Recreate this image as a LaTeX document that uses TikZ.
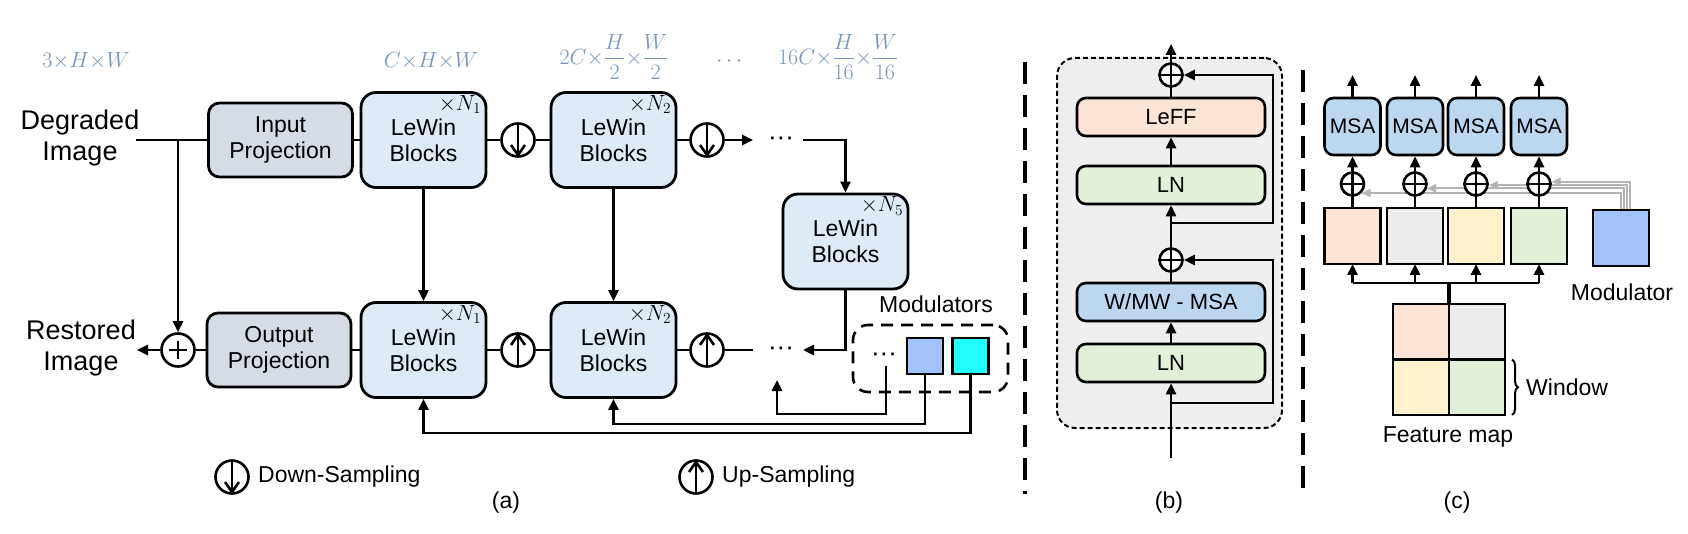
\RequirePackage{fix-cm}
\documentclass[tikz,border=0pt]{standalone}
\usepackage{amsmath}
\usepackage{fontspec}
\setmainfont{Liberation Sans}
\usetikzlibrary{arrows.meta,decorations.pathreplacing,calc}
\pgfdeclarelayer{bg}
\pgfsetlayers{bg,main}
\definecolor{dimc}{RGB}{122,150,186}
\definecolor{projc}{RGB}{214,220,229}
\definecolor{lewinc}{RGB}{222,235,247}
\definecolor{peachc}{RGB}{252,228,214}
\definecolor{greenc}{RGB}{226,240,217}
\definecolor{bluec}{RGB}{189,215,238}
\definecolor{grayc}{RGB}{237,237,237}
\definecolor{yellowc}{RGB}{255,242,204}
\definecolor{modc}{RGB}{164,194,250}
\definecolor{cyanc}{RGB}{34,255,255}
\definecolor{panelc}{RGB}{239,239,239}
\definecolor{garrow}{RGB}{180,180,180}
\newcommand\mydots{\char"00B7\char"00B7\char"00B7}
\begin{document}
\begin{tikzpicture}[x=1pt,y=-1pt,
  box/.style={draw, line width=2.8pt, align=center, inner sep=0pt, font=\fontsize{23}{26}\selectfont},
  proj/.style={box, rounded corners=11pt, fill=projc, minimum width=144pt, minimum height=74pt},
  lewin/.style={box, rounded corners=15pt, fill=lewinc, minimum width=125pt, minimum height=95pt},
  bbox/.style={box, line width=2.6pt, rounded corners=9pt, minimum width=188pt, minimum height=38pt, font=\fontsize{22}{26}\selectfont},
  msa/.style={box, line width=2.6pt, rounded corners=9pt, fill=bluec, minimum width=56pt, minimum height=57pt, font=\fontsize{21}{24}\selectfont},
  sq/.style={draw, line width=2.6pt, minimum width=56pt, minimum height=56pt, inner sep=0pt, outer sep=0pt},
  conn/.style={line width=2.6pt},
  arr/.style={conn, -{Triangle[length=11pt,width=10pt]}},
  samp/.style={circle, draw, line width=2.6pt, minimum size=33pt, inner sep=0pt, fill=white},
  oplus/.style={circle, draw, line width=2.6pt, minimum size=23pt, inner sep=0pt, fill=white},
  lbl/.style={font=\fontsize{23}{27}\selectfont, inner sep=0pt},
  dotl/.style={font=\fontsize{26}{28}\selectfont, inner sep=0pt},
  side/.style={font=\fontsize{27}{31}\selectfont, align=center, inner sep=0pt},
  dim/.style={text=dimc, font=\fontsize{22}{26}\selectfont, inner sep=0pt},
  nlab/.style={font=\fontsize{22}{24}\selectfont, inner sep=0pt, anchor=north east},
  gline/.style={line width=2pt, draw=garrow, -{Triangle[length=9pt,width=8pt]}},
  sepline/.style={line width=3.2pt, dash pattern=on 22pt off 11pt},
]
\useasboundingbox (0,0) rectangle (1688,534);
\begin{pgfonlayer}{bg}
\fill[white] (0,0) rectangle (1688,534);
\end{pgfonlayer}

% ---------------- (a) ----------------
\node[dim] (d0) at (86,61) {$3{\times}H{\times}W$};
\node[dim] (d1) at (431,61) {$C{\times}H{\times}W$};
\node[dim] (d2) at (614,57) {$2C{\times}\dfrac{H}{2}{\times}\dfrac{W}{2}$};
\node[dim] (d3) at (731,62) {$\cdots$};
\node[dim] (d4) at (838,57) {$16C{\times}\dfrac{H}{16}{\times}\dfrac{W}{16}$};

\node[side] (deg) at (80,138) {Degraded\\Image};
\node[side] (res) at (81,348) {Restored\\Image};

\coordinate (in0) at (136,140);
\coordinate (br) at (178,140);
\node[proj] (ip) at (280.5,140) {Input\\Projection};
\node[lewin] (L1t) at (423.5,140) {LeWin\\Blocks};
\node[samp] (s1) at (518,140) {};
\node[lewin] (L2t) at (613.5,140) {LeWin\\Blocks};
\node[samp] (s2) at (707,140) {};
\node[dotl] (dt) at (781,141) {\mydots};
\node[lewin] (L5) at (845.5,241.5) {LeWin\\Blocks};

\node[samp] (pl) at (178,350) {};
\node[proj] (op) at (279,350) {Output\\Projection};
\node[lewin] (L1b) at (423.5,350) {LeWin\\Blocks};
\node[samp] (s3) at (518,350) {};
\node[lewin] (L2b) at (613.5,350) {LeWin\\Blocks};
\node[samp] (s4) at (707,350) {};
\node[dotl] (db) at (781,351) {\mydots};

\node[nlab] (n1t) at ($(L1t.north east)+(-6,4)$) {${\times}N_1$};
\node[nlab] (n2t) at ($(L2t.north east)+(-6,4)$) {${\times}N_2$};
\node[nlab] (n5) at ($(L5.north east)+(-6,4)$) {${\times}N_5$};
\node[nlab] (n1b) at ($(L1b.north east)+(-6,4)$) {${\times}N_1$};
\node[nlab] (n2b) at ($(L2b.north east)+(-6,4)$) {${\times}N_2$};

\draw[conn] (in0) -- (ip.west);
\draw[conn] (ip.east) -- (L1t.west);
\draw[conn] (L1t.east) -- (s1.west);
\draw[conn] (s1.east) -- (L2t.west);
\draw[conn] (L2t.east) -- (s2.west);
\coordinate (e1) at (753,140);
\draw[arr] (s2.east) -- (e1);
\coordinate (e2) at (803,140);
\draw[arr] (e2) -| (L5.north);
\coordinate (e3) at (803,350);
\draw[arr] (L5.south) |- (e3);
\coordinate (e4) at (753,350);
\draw[conn] (e4) -- (s4.east);
\draw[conn] (s4.west) -- (L2b.east);
\draw[conn] (L2b.west) -- (s3.east);
\draw[conn] (s3.west) -- (L1b.east);
\draw[conn] (L1b.west) -- (op.east);
\draw[conn] (op.west) -- (pl.east);
\coordinate (out) at (137,350);
\draw[arr] (pl.west) -- (out);
\draw[arr] (br) -- (pl.north);
\draw[arr] (L1t.south) -- (L1b.north);
\draw[arr] (L2t.south) -- (L2b.north);
\draw[line width=2pt] ($(pl)+(-9,0)$) -- ($(pl)+(9,0)$);
\draw[line width=2pt] ($(pl)+(0,-9)$) -- ($(pl)+(0,9)$);

% modulators
\node[lbl] (modl) at (936,304) {Modulators};
\node[draw, line width=2.6pt, dash pattern=on 12pt off 8pt, rounded corners=15pt, minimum width=155pt, minimum height=67pt, inner sep=0pt] (mbox) at (930.5,358.5) {};
\node[dotl] (mdots) at (884,357) {\mydots};
\node[sq, fill=modc, minimum width=36pt, minimum height=36pt] (m1) at (925,356) {};
\node[sq, fill=cyanc, minimum width=36pt, minimum height=36pt] (m2) at (970.5,356) {};
\coordinate (f0) at (886,366);
\coordinate (f0b) at (777,414);
\coordinate (f0t) at (777,380);
\draw[arr] (f0) |- (f0b) -- (f0t);
\draw[arr] (m1.south) |- ($(L2b.south)+(0,25)$) -- (L2b.south);
\draw[arr] (m2.south) |- ($(L1b.south)+(0,34)$) -- (L1b.south);

% legend
\node[samp] (ld) at (232,477) {};
\node[lbl, anchor=west] (ldt) at (258,477) {Down-Sampling};
\node[samp] (lu) at (696,477) {};
\node[lbl, anchor=west] (lut) at (722,477) {Up-Sampling};
\node[lbl] (capa) at (506,503) {(a)};

\foreach \n in {s1,s2,ld} {
  \draw[conn] ($(\n)+(0,-16)$) -- ($(\n)+(0,15)$);
  \draw[conn, line join=miter] ($(\n)+(-7,5)$) -- ($(\n)+(0,15)$) -- ($(\n)+(7,5)$);
}
\foreach \n in {s3,s4,lu} {
  \draw[conn] ($(\n)+(0,16)$) -- ($(\n)+(0,-15)$);
  \draw[conn, line join=miter] ($(\n)+(-7,-5)$) -- ($(\n)+(0,-15)$) -- ($(\n)+(7,-5)$);
}

% separators
\coordinate (sp1a) at (1025,62);
\coordinate (sp1b) at (1025,494);
\draw[sepline] (sp1a) -- (sp1b);
\coordinate (sp2a) at (1303,70);
\coordinate (sp2b) at (1303,496);
\draw[sepline] (sp2a) -- (sp2b);

% ---------------- (b) ----------------
\node[draw, line width=2pt, dash pattern=on 5pt off 3pt, rounded corners=18pt, fill=panelc, minimum width=225pt, minimum height=370pt, inner sep=0pt] (pb) at (1169.5,243) {};
\node[bbox, fill=peachc] (leff) at (1171,117) {LeFF};
\node[bbox, fill=greenc] (ln1) at (1171,185) {LN};
\node[bbox, fill=bluec] (wmsa) at (1171,302) {W/MW - MSA};
\node[bbox, fill=greenc] (ln2) at (1171,363) {LN};
\node[oplus] (pt) at (1171,75) {};
\node[oplus] (pm) at (1171,260) {};
\coordinate (bin) at (1171,458);
\coordinate (bout) at (1171,44);
\draw[arr] (bin) -- (ln2.south);
\draw[arr] (ln2.north) -- (wmsa.south);
\draw[conn] (wmsa.north) -- (pm.south);
\draw[arr] (pm.north) -- (ln1.south);
\draw[arr] (ln1.north) -- (leff.south);
\draw[conn] (leff.north) -- (pt.south);
\draw[arr] (pt.north) -- (bout);
\foreach \n in {pt,pm} {
  \draw[conn] (\n.west) -- (\n.east);
  \draw[conn] (\n.north) -- (\n.south);
}
\coordinate (r1) at (1171,403);
\coordinate (r1c) at (1273,403);
\draw[arr, line width=2.3pt] (r1) -- (r1c) |- (pm.east);
\coordinate (r2) at (1171,223);
\coordinate (r2c) at (1273,223);
\draw[arr, line width=2.3pt] (r2) -- (r2c) |- (pt.east);
\node[lbl] (capb) at (1169,503) {(b)};

% ---------------- (c) ----------------
\foreach \i/\x/\c in {1/1352.5/peachc, 2/1415/grayc, 3/1476/yellowc, 4/1539/greenc} {
  \node[msa] (ms\i) at (\x,126.5) {MSA};
  \node[oplus] (p\i) at (\x,184) {};
  \node[sq, fill=\c] (w\i) at (\x,236) {};
  \coordinate (top\i) at (\x,75);
  \coordinate (bot\i) at (\x,283);
  \draw[conn] (w\i.north) -- (p\i.south);
  \draw[conn] (p\i.west) -- (p\i.east);
  \draw[conn] (p\i.south) -- (p\i.north);
  \draw[arr] (p\i.north) -- (ms\i.south);
  \draw[arr] (ms\i.north) -- (top\i);
  \draw[arr] (bot\i) -- (w\i.south);
}
\draw[conn] (bot1) -- (bot4);
\node[sq, fill=peachc, minimum height=55.5pt] (fq1) at (1421,331.75) {};
\node[sq, fill=grayc, minimum height=55.5pt] (fq2) at (1477,331.75) {};
\node[sq, fill=yellowc, minimum height=55.5pt] (fq3) at (1421,387.25) {};
\node[sq, fill=greenc, minimum height=55.5pt] (fq4) at (1477,387.25) {};
\coordinate (stem) at (1449,283);
\draw[line width=3.2pt] (fq1.north east) -- (stem);
\draw[decorate, decoration={brace, amplitude=6pt}, line width=2pt] ($(fq4.north east)+(7,0)$) -- ($(fq4.south east)+(7,0)$);
\node[lbl, anchor=west] (win) at (1526,387) {Window};
\node[lbl] (fm) at (1448,437) {Feature map};
\node[sq, fill=modc] (mod) at (1621,238) {};
\node[lbl] (modt) at (1622,292) {Modulator};
\node[lbl] (capc) at (1457,503) {(c)};

\begin{pgfonlayer}{bg}
\draw[gline] ($(mod.north)+(9,0)$) |- (p4.10);
\draw[gline] ($(mod.north)+(6,0)$) |- (p3.-5);
\draw[gline] ($(mod.north)+(3,0)$) |- (p2.-20);
\draw[gline] ($(mod.north)+(0,0)$) |- (p1.-45);
\end{pgfonlayer}
\end{tikzpicture}
\end{document}
